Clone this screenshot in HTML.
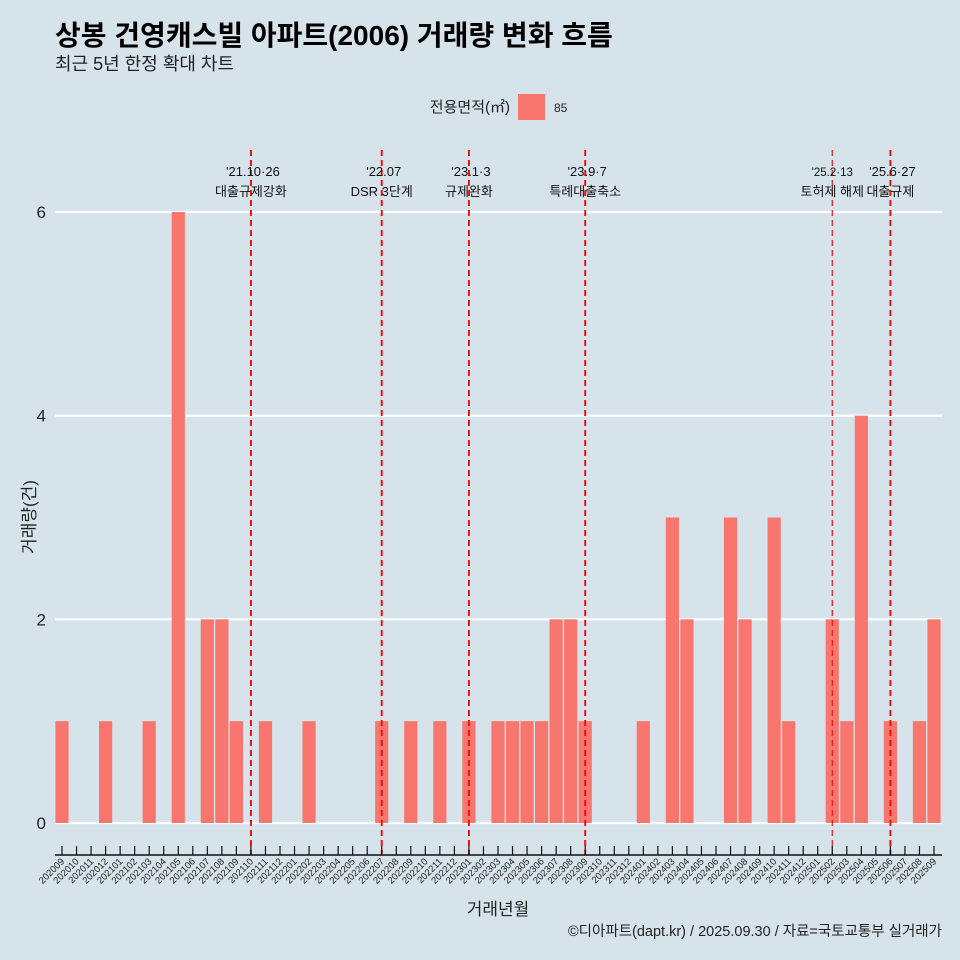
<!DOCTYPE html>
<html><head><meta charset="utf-8"><style>
html,body{margin:0;background:#d6e3ea;overflow:hidden;width:960px;height:960px;}
svg{display:block;}
svg text{font-family:"Liberation Sans","Noto Sans CJK KR",sans-serif;}
</style></head><body>
<svg width="960" height="960" xmlns="http://www.w3.org/2000/svg">
<rect width="960" height="960" fill="#d6e3ea"/>
<text x="55" y="45" font-size="28" font-weight="bold" fill="#000">상봉 건영캐스빌 아파트(2006) 거래량 변화 흐름</text>
<text x="55" y="70" font-size="18" fill="#222">최근 5년 한정 확대 차트</text>
<text x="510" y="112" font-size="15" text-anchor="end" fill="#222">전용면적(㎡)</text>
<rect x="518" y="94" width="27" height="26" fill="#f8766d"/>
<text x="554" y="112" font-size="12" fill="#222">85</text>
<g id="grid"></g><g id="bars"></g><g id="vlines"></g><g id="xaxis"></g>
<text x="35" y="517" font-size="17" text-anchor="middle" transform="rotate(-90 35 517)" fill="#222">거래량(건)</text>
<text x="498" y="915" font-size="17" text-anchor="middle" fill="#222">거래년월</text>
<text x="942" y="936" font-size="14.5" text-anchor="end" fill="#222">©디아파트(dapt.kr) / 2025.09.30 / 자료=국토교통부 실거래가</text>
</svg>
<script>
const months=[];for(let y=2020,m=9;y<2025||(y===2025&&m<=9);){months.push(y+String(m).padStart(2,'0'));m++;if(m>12){m=1;y++;}}
const saleMonths=['202009','202012','202103','202105','202107','202108','202109','202111','202202','202207','202209','202211','202301','202303','202304','202305','202306','202307','202308','202309','202401','202403','202404','202407','202408','202410','202411','202502','202503','202504','202506','202508','202509'];
const saleCounts=[1,1,1,6,2,2,1,1,1,1,1,1,1,1,1,1,1,2,2,1,1,3,2,3,2,3,1,2,1,4,1,1,2];
const yTicks=[0,2,4,6];
const eventMonths=['202110','202207','202301','202309','202502','202506'];
const eventDates=["'21.10·26","'22.07","'23.1·3","'23.9·7","'25.2·13","'25.6·27"];
const eventNames=['대출규제강화','DSR 3단계','규제완화','특례대출축소','토허제 해제','대출규제'];
const NS='http://www.w3.org/2000/svg';
const x=i=>62+i*(934-62)/60, y=v=>823-v*(823-212)/6;
function mk(t,a,p){const e=document.createElementNS(NS,t);for(const k in a)e.setAttribute(k,a[k]);p.appendChild(e);return e;}
const g=document.getElementById('grid');
yTicks.forEach(v=>{const l=mk('line',{x1:55,x2:942,y1:y(v),y2:y(v),stroke:'#fff','stroke-width':2.2},g);


const t=mk('text',{x:46,y:y(v)+6,'font-size':17,'text-anchor':'end',fill:'#222'},g);t.textContent=v;

});
const b=document.getElementById('bars');const bw=13.2;
saleMonths.forEach((m,k)=>{const i=months.indexOf(m);const r=mk('rect',{x:x(i)-bw/2,y:y(saleCounts[k]),width:bw,height:y(0)-y(saleCounts[k]),fill:'#f8766d'},b);

});
const vg=document.getElementById('vlines');
eventMonths.forEach((m,k)=>{const i=months.indexOf(m);const xx=x(i);const thin=m==='202502';
const l=mk('line',{x1:xx,x2:xx,y1:150,y2:855,stroke:'#ee1111','stroke-width':thin?1.2:2,'stroke-dasharray':'6,4'},vg);


const t1=mk('text',{x:xx+(thin?0:2),y:176,'font-size':thin?11.5:13,'text-anchor':'middle',fill:'#111'},vg);t1.textContent=eventDates[k];


const t2=mk('text',{x:xx,y:196,'font-size':13,'text-anchor':'middle',fill:'#111'},vg);t2.textContent=eventNames[k];

});
const xa=document.getElementById('xaxis');
const al=mk('line',{x1:55,x2:942,y1:855,y2:855,stroke:'#111','stroke-width':1.5},xa);


months.forEach((m,i)=>{const xx=x(i);mk('line',{x1:xx,x2:xx,y1:846,y2:855,stroke:'#111','stroke-width':1.2},xa);
const t=mk('text',{x:xx+3,y:862,'font-size':9.5,'text-anchor':'end',fill:'#222',transform:`rotate(-45 ${xx+3} 862)`},xa);t.textContent=m;

});
</script>
</body></html>
